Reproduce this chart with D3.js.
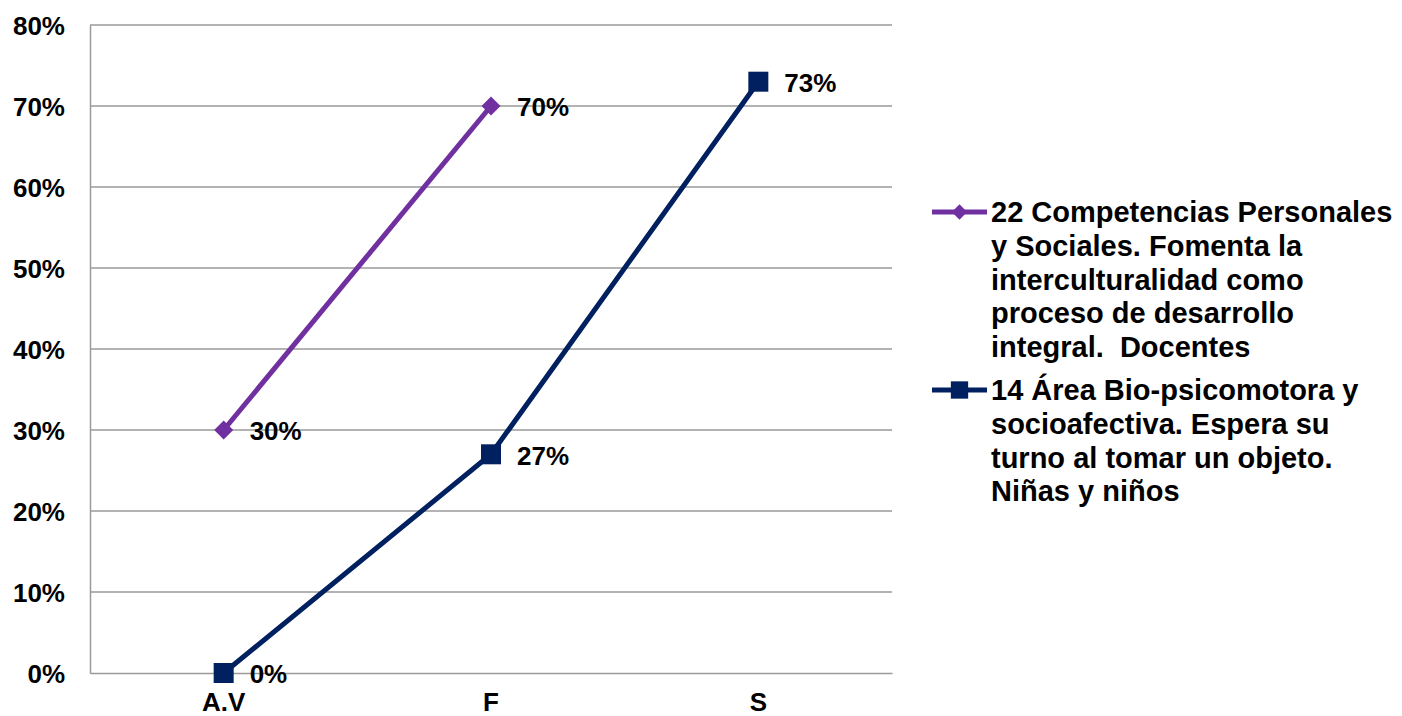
<!DOCTYPE html>
<html>
<head>
<meta charset="utf-8">
<script src="https://cdn.jsdelivr.net/npm/d3@7"></script>
<style>
  body { margin: 0; background: #fff; }
  text { font-family: "Liberation Sans", Arial, sans-serif; font-weight: bold; fill: #000; }
</style>
</head>
<body>
<script>
/* CONSTANTS AND GLOBALS */
const width = 1402;
const height = 716;
const margin = { top: 25, bottom: 43, left: 90, right: 510 };

/* DATA */
const categories = ["A.V", "F", "S"];
const yTicks = [0, 0.1, 0.2, 0.3, 0.4, 0.5, 0.6, 0.7, 0.8];
const seriesNames = [
  ["22 Competencias Personales", "y Sociales. Fomenta la", "interculturalidad como", "proceso de desarrollo", "integral.  Docentes"],
  ["14 Área Bio-psicomotora y", "socioafectiva. Espera su", "turno al tomar un objeto.", "Niñas y niños"]
];
const docentes = [0.30, 0.70, null];
const ninos = [0, 0.27, 0.73];
const colors = ["#7030A0", "#002060"];

const series = [
  { name: seriesNames[0], values: docentes, color: colors[0], symbol: d3.symbolDiamond2 },
  { name: seriesNames[1], values: ninos, color: colors[1], symbol: d3.symbolSquare }
];

//SCALES
const x = d3.scaleBand()
  .domain(categories)
  .range([margin.left, width - margin.right]);

const y = d3.scaleLinear()
  .domain([0, 0.8])
  .range([height - margin.bottom, margin.top]);

//SVG
const svg = d3.select("body").append("svg")
  .attr("width", width)
  .attr("height", height);

//GRIDLINES
svg.append("g")
  .selectAll("line")
  .data(yTicks.slice(1))
  .enter()
  .append("line")
  .attr("x1", margin.left)
  .attr("x2", width - margin.right)
  .attr("y1", d => y(d))
  .attr("y2", d => y(d))
  .attr("stroke", "#9a9a9a")
  .attr("stroke-width", 1.5);

//Y-AXIS
const yAxis = d3.axisLeft(y)
  .tickValues(yTicks)
  .tickFormat(d3.format(".0%"))
  .tickSize(0)
  .tickPadding(25);

svg.append("g")
  .attr("transform", "translate(" + margin.left + ",0)")
  .call(yAxis)
  .call(g => g.select(".domain").attr("stroke", "#9a9a9a").attr("stroke-width", 1.5))
  .selectAll("text")
  .attr("font-size", 26)
  .attr("dy", "0.36em");

//X-AXIS
const xAxis = d3.axisBottom(x).tickSize(0).tickPadding(20);

svg.append("g")
  .attr("transform", "translate(0," + y(0) + ")")
  .call(xAxis)
  .call(g => g.select(".domain").attr("stroke", "#9a9a9a").attr("stroke-width", 1.5))
  .selectAll("text")
  .attr("font-size", 26);

//LINES
const line = d3.line()
  .defined(d => d.v != null)
  .x(d => x(d.c) + x.bandwidth() / 2)
  .y(d => y(d.v));

series.forEach(s => {
  const pts = categories.map((c, i) => ({ c: c, v: s.values[i] })).filter(d => d.v != null);

  svg.append("path")
    .datum(pts)
    .attr("fill", "none")
    .attr("stroke", s.color)
    .attr("stroke-width", 5)
    .attr("d", line);

  svg.selectAll(null)
    .data(pts)
    .enter()
    .append("path")
    .attr("transform", d => "translate(" + (x(d.c) + x.bandwidth() / 2) + "," + y(d.v) + ")")
    .attr("d", d3.symbol().type(s.symbol).size(s.symbol === d3.symbolSquare ? 400 : 230))
    .attr("fill", s.color);

  //VALUE LABELS
  svg.selectAll(null)
    .data(pts)
    .enter()
    .append("text")
    .attr("x", d => x(d.c) + x.bandwidth() / 2 + 26)
    .attr("y", d => y(d.v))
    .attr("dy", "0.4em")
    .attr("font-size", 26)
    .text(d => d3.format(".0%")(d.v));
});

//LEGEND
const legendX = 932;
const legendY = [212, 390];
const lineH = 33.6;

series.forEach((s, i) => {
  const g = svg.append("g").attr("transform", "translate(" + legendX + "," + legendY[i] + ")");
  g.append("line")
    .attr("x1", 0).attr("x2", 55)
    .attr("stroke", s.color)
    .attr("stroke-width", 5);
  g.append("path")
    .attr("transform", "translate(27.5,0)")
    .attr("d", d3.symbol().type(s.symbol).size(s.symbol === d3.symbolSquare ? 300 : 150))
    .attr("fill", s.color);
  const t = g.append("text")
    .attr("x", 59)
    .attr("y", 0)
    .attr("font-size", 29)
    .attr("xml:space", "preserve");
  s.name.forEach((ln, j) => {
    t.append("tspan")
      .attr("x", 59)
      .attr("y", j * lineH)
      .attr("dy", "0.36em")
      .text(ln);
  });
});
</script>
</body>
</html>
